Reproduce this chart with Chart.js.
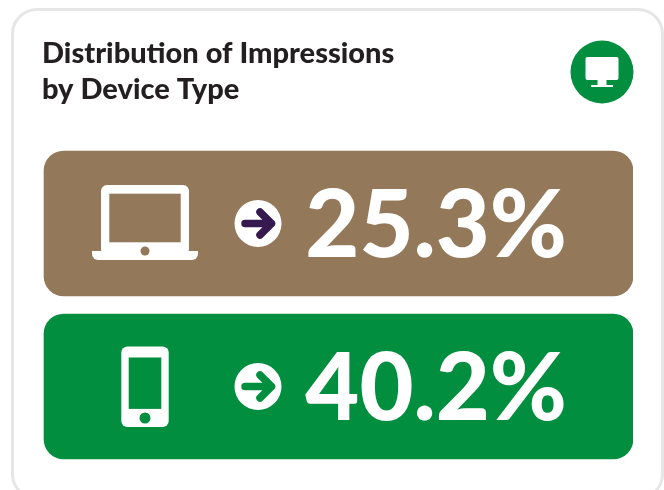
<!DOCTYPE html>
<html>
<head>
<meta charset="utf-8">
<title>Distribution of Impressions by Device Type</title>
<script src="https://cdn.jsdelivr.net/npm/chart.js@4"></script>
<style>
    html, body { margin: 0; padding: 0; background: #fff; overflow: hidden; }
    #wrap { position: relative; width: 664px; height: 490px; overflow: hidden; }
    #card {
        position: absolute; left: 11px; top: 8px; width: 647px; height: 486px;
        border: 3px solid #e6e6e6; border-radius: 26px;
    }
    #chart { position: absolute; left: 0; top: 0; }
</style>
</head>
<body>
<div id="wrap">
    <div id="card"></div>
    <canvas id="chart" width="664" height="490"></canvas>
</div>
<script>
const titleLines = ['Distribution of Impressions', 'by Device Type'];
const devices = ['Laptop', 'Mobile'];
const shares = [25.3, 40.2];
// both tiles run the full width, the share is only printed on them
const tileSpan = [100, 100];
const tileColors = ['#94785a', '#028e3f'];
const arrowColors = ['#35194f', '#028e3f'];

const BADGE_GREEN = '#028e3f';

function roundBox(ctx, x, y, w, h, r) {
    ctx.beginPath();
    ctx.roundRect(x, y, w, h, r);
    ctx.fill();
}

function drawLaptop(ctx, cx, cy, color) {
    ctx.fillStyle = '#fff';
    roundBox(ctx, cx - 44, cy - 38.5, 88, 70, 6);
    ctx.fillStyle = color;
    ctx.fillRect(cx - 35.7, cy - 29.8, 71.4, 48.6);
    ctx.fillStyle = '#fff';
    roundBox(ctx, cx - 53, cy + 27.5, 106, 9, [0, 0, 6, 6]);
    ctx.fillStyle = color;
    ctx.beginPath();
    ctx.arc(cx, cy + 27.5, 4.5, 0, Math.PI * 2);
    ctx.fill();
}

function drawPhone(ctx, cx, cy, color) {
    ctx.fillStyle = '#fff';
    roundBox(ctx, cx - 23.7, cy - 40, 47.4, 80.6, 6);
    ctx.fillStyle = color;
    ctx.fillRect(cx - 16.3, cy - 29, 32.6, 51.4);
    ctx.beginPath();
    ctx.arc(cx, cy + 31.5, 5.5, 0, Math.PI * 2);
    ctx.fill();
}

function drawArrow(ctx, cx, cy, color) {
    ctx.fillStyle = '#fff';
    ctx.beginPath();
    ctx.arc(cx, cy, 23.5, 0, Math.PI * 2);
    ctx.fill();
    ctx.strokeStyle = color;
    ctx.lineWidth = 7.5;
    ctx.lineCap = 'round';
    ctx.lineJoin = 'round';
    ctx.beginPath();
    ctx.moveTo(cx - 13, cy);
    ctx.lineTo(cx + 13.5, cy);
    ctx.moveTo(cx + 2, cy - 11.5);
    ctx.lineTo(cx + 13.5, cy);
    ctx.lineTo(cx + 2, cy + 11.5);
    ctx.stroke();
}

function drawMonitorBadge(ctx, cx, cy) {
    ctx.fillStyle = BADGE_GREEN;
    ctx.beginPath();
    ctx.arc(cx, cy, 31.5, 0, Math.PI * 2);
    ctx.fill();
    ctx.fillStyle = '#fff';
    roundBox(ctx, cx - 16.5, cy - 15, 33, 23, 2);
    ctx.fillRect(cx - 4.5, cy + 8, 9, 5);
    ctx.fillRect(cx - 11, cy + 13, 22, 2);
}

const tileDecor = {
    id: 'tileDecor',
    afterDatasetsDraw(chart) {
        const ctx = chart.ctx;
        const bars = chart.getDatasetMeta(0).data;
        ctx.save();
        bars.forEach((bar, i) => {
            const iconX = bar.base + 101;
            if (i === 0) drawLaptop(ctx, iconX, bar.y, tileColors[i]);
            else drawPhone(ctx, iconX, bar.y, tileColors[i]);
            drawArrow(ctx, bar.base + 214, bar.y, arrowColors[i]);

            ctx.fillStyle = '#fff';
            ctx.font = '900 93.3px Lato';
            ctx.textAlign = 'right';
            ctx.textBaseline = 'alphabetic';
            ctx.fillText(shares[i].toFixed(1) + '%', bar.x - 66, bar.y + 33.5);
        });
        drawMonitorBadge(ctx, 602, 72);
        ctx.restore();
    }
};

new Chart(document.getElementById('chart'), {
    type: 'bar',
    data: {
        labels: devices,
        datasets: [{
            data: tileSpan,
            backgroundColor: tileColors,
            borderRadius: 20,
            borderSkipped: false,
            barThickness: 145
        }]
    },
    plugins: [tileDecor],
    options: {
        indexAxis: 'y',
        responsive: false,
        animation: false,
        // title hangs 2px left of the tiles, x.min makes up the difference
        layout: { padding: { left: 42, right: 31, top: 36, bottom: 22 } },
        scales: {
            x: { display: false, min: -0.34, max: 100 },
            y: { display: false }
        },
        plugins: {
            legend: { display: false },
            tooltip: { enabled: false },
            title: {
                display: true,
                text: titleLines,
                align: 'start',
                color: '#231f20',
                font: { family: 'Lato', size: 29, weight: '900', lineHeight: 1.241 },
                padding: { top: 0, bottom: 34 }
            }
        }
    }
});
</script>
</body>
</html>
